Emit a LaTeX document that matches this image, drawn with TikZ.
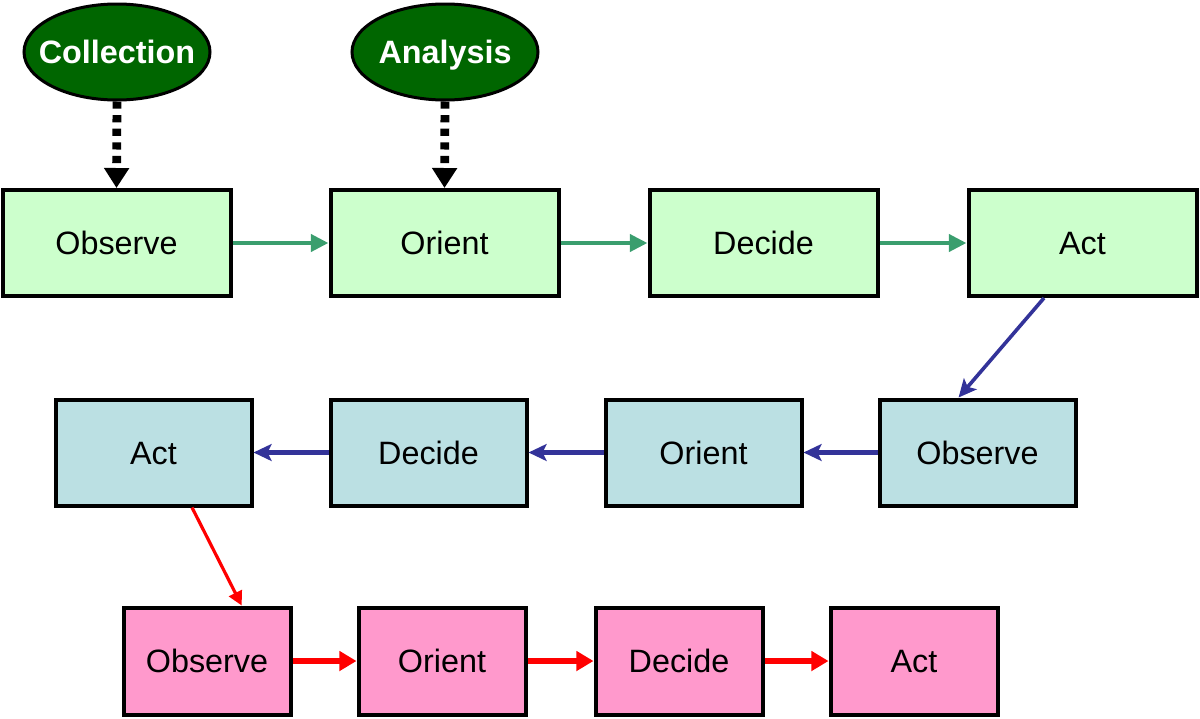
\documentclass[tikz,border=0pt]{standalone}
\usepackage{fontspec}
\setmainfont{Liberation Sans}
\usepackage{tikz}
\usetikzlibrary{arrows.meta,positioning,shapes.geometric}
\definecolor{OodaGreen}{HTML}{CCFFCC}
\definecolor{OodaBlue}{HTML}{BBE0E3}
\definecolor{OodaPink}{HTML}{FF99CC}
\definecolor{DarkLeaf}{HTML}{006600}
\definecolor{SeaArrow}{HTML}{3A9E6E}
\definecolor{NavyArrow}{HTML}{333399}

\begin{document}
\begin{tikzpicture}[
  box/.style={draw,line width=0.1cm,inner sep=0pt,minimum height=2.65cm,
    text height=16.5pt,text depth=0pt,font=\fontsize{23}{27}\selectfont},
  wide/.style={box,minimum width=5.7cm},
  mid/.style={box,minimum width=4.9cm},
  small/.style={box,minimum width=4.175cm,minimum height=2.675cm},
  source/.style={ellipse,draw,line width=0.075cm,fill=DarkLeaf,text=white,
    minimum width=4.65cm,minimum height=2.4cm,inner xsep=-0.4cm,inner ysep=0pt,
    text height=16.5pt,text depth=0pt,font=\fontsize{23}{27}\selectfont\bfseries},
  feed/.style={line width=0.22cm,dash pattern=on 0.18cm off 0.16cm,
    -{Triangle[length=5mm,width=6mm]}},
  garr/.style={SeaArrow,line width=0.11cm,-{Triangle[length=4.4mm,width=4.2mm]}},
  barr/.style={NavyArrow,line width=0.12cm,-{Stealth[length=4.5mm,width=4.2mm,inset=1mm]}},
  rarr/.style={red,line width=0.14cm,-{Triangle[length=4.3mm,width=4.8mm]}}]
\useasboundingbox (0,0) rectangle (30,-17.95);
% first loop
\node[wide,fill=OodaGreen] (obs1) at (2.9125,-6.075) {Observe};
\node[wide,fill=OodaGreen,right=2.4cm of obs1] (ori1) {Orient};
\node[wide,fill=OodaGreen,right=2.175cm of ori1] (dec1) {Decide};
\node[wide,fill=OodaGreen,right=2.175cm of dec1] (act1) {Act};
\node[source] (coll) at (2.925,-1.3) {Collection};
\node[source] (anal) at (11.125,-1.3) {Analysis};
% second loop
\node[mid,fill=OodaBlue] (obs2) at (24.4375,-11.3125) {Observe};
\node[mid,fill=OodaBlue,left=1.85cm of obs2] (ori2) {Orient};
\node[mid,fill=OodaBlue,left=1.875cm of ori2] (dec2) {Decide};
\node[mid,fill=OodaBlue,left=1.875cm of dec2] (act2) {Act};
% third loop
\node[small,fill=OodaPink] (obs3) at (5.175,-16.525) {Observe};
\node[small,fill=OodaPink,right=1.6cm of obs3] (ori3) {Orient};
\node[small,fill=OodaPink,right=1.65cm of ori3] (dec3) {Decide};
\node[small,fill=OodaPink,right=1.6cm of dec3] (act3) {Act};
\draw[feed] (coll.south) -- (obs1.north);
\draw[feed] (anal.south) -- (ori1.north);
\draw[garr] (obs1) -- (ori1);
\draw[garr] (ori1) -- (dec1);
\draw[garr] (dec1) -- (act1);
\draw[barr,line width=0.09cm] (act1.235) -- (obs2.109);
\draw[barr] (obs2) -- (ori2);
\draw[barr] (ori2) -- (dec2);
\draw[barr] (dec2) -- (act2);
\draw[rarr,line width=0.08cm,-{Triangle[length=3.5mm,width=3.5mm]}] (act2.305) -- (obs3.58);
\draw[rarr] (obs3) -- (ori3);
\draw[rarr] (ori3) -- (dec3);
\draw[rarr] (dec3) -- (act3);
\end{tikzpicture}
\end{document}
